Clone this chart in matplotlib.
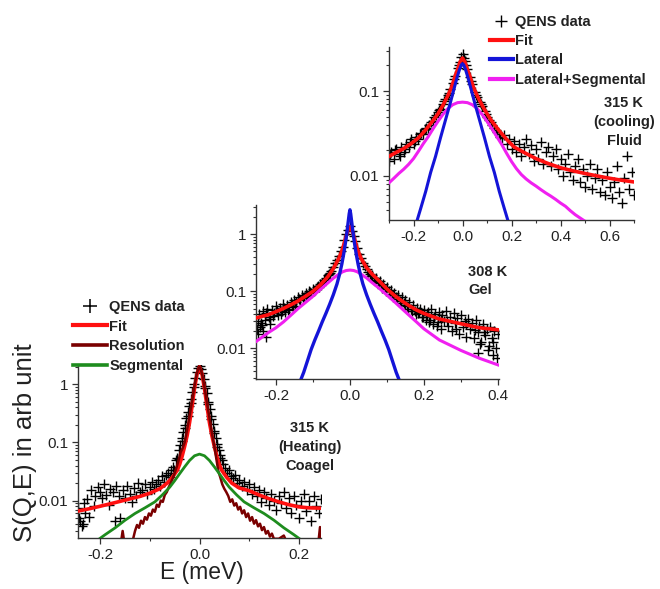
import matplotlib
matplotlib.use("Agg")
import matplotlib.pyplot as plt
from matplotlib.lines import Line2D
from matplotlib.ticker import FixedLocator, FixedFormatter, LogLocator, NullFormatter

plt.rcParams['font.family'] = ['Liberation Sans', 'DejaVu Sans']

# ---------------- 315 K heating (coagel) ----------------
coagel_E = [-0.245, -0.243, -0.240, -0.237, -0.235, -0.233, -0.230, -0.226, -0.222, -0.218,
            -0.213, -0.210, -0.205, -0.200, -0.196, -0.192, -0.188, -0.183, -0.180, -0.175,
            -0.170, -0.168, -0.163, -0.160, -0.155, -0.150, -0.146, -0.140, -0.136, -0.132,
            -0.128, -0.124, -0.120, -0.115, -0.110, -0.105, -0.100, -0.096, -0.092, -0.088,
            -0.084, -0.080, -0.076, -0.072, -0.068, -0.064, -0.060, -0.057, -0.054, -0.051,
            -0.048, -0.045, -0.042, -0.039, -0.036, -0.033, -0.030, -0.027, -0.024, -0.021,
            -0.018, -0.015, -0.012, -0.009, -0.006, -0.003, 0.000, 0.003, 0.006, 0.009,
            0.012, 0.015, 0.018, 0.021, 0.024, 0.027, 0.030, 0.033, 0.036, 0.039,
            0.042, 0.045, 0.048, 0.052, 0.056, 0.060, 0.064, 0.068, 0.072, 0.076,
            0.080, 0.085, 0.090, 0.095, 0.100, 0.105, 0.110, 0.115, 0.120, 0.125,
            0.130, 0.135, 0.140, 0.145, 0.150, 0.155, 0.160, 0.165, 0.170, 0.175,
            0.180, 0.185, 0.190, 0.195, 0.200, 0.205, 0.210, 0.215, 0.220, 0.225,
            0.230, 0.235, 0.240, 0.244, -0.041, -0.035, -0.029, -0.023, -0.017, -0.011,
            0.011, 0.017, 0.023, 0.029, 0.035, 0.041]
coagel_S = [0.0075, 0.0050, 0.0045, 0.0036, 0.0040, 0.0090, 0.0060, 0.0105, 0.0052, 0.0150,
            0.0080, 0.0120, 0.0170, 0.0140, 0.0110, 0.0190, 0.0125, 0.0085, 0.0160, 0.0140,
            0.0045, 0.0175, 0.0120, 0.0050, 0.0150, 0.0110, 0.0180, 0.0130, 0.0095, 0.0165,
            0.0120, 0.0200, 0.0140, 0.0155, 0.0190, 0.0130, 0.0170, 0.0210, 0.0160, 0.0190,
            0.0230, 0.0180, 0.0260, 0.0210, 0.0280, 0.0300, 0.0250, 0.0330, 0.0380, 0.0330,
            0.0490, 0.0550, 0.0750, 0.0900, 0.120, 0.150, 0.200, 0.260, 0.330, 0.430,
            0.560, 0.750, 1.00, 1.30, 1.60, 1.90, 2.10, 1.85, 1.55, 1.25,
            0.95, 0.70, 0.50, 0.38, 0.28, 0.21, 0.16, 0.12, 0.095, 0.075,
            0.060, 0.050, 0.042, 0.036, 0.030, 0.034, 0.026, 0.024, 0.028, 0.020,
            0.023, 0.018, 0.021, 0.015, 0.019, 0.013, 0.017, 0.012, 0.015, 0.0095,
            0.014, 0.011, 0.0085, 0.013, 0.010, 0.0070, 0.012, 0.0090, 0.014, 0.0075,
            0.011, 0.0060, 0.012, 0.0085, 0.0050, 0.010, 0.0130, 0.0065, 0.0100, 0.0045,
            0.0120, 0.0080, 0.0060, 0.0105, 0.052, 0.105, 0.175, 0.29, 0.48, 0.90,
            0.85, 0.45, 0.25, 0.145, 0.085, 0.055]

coagel_fit_E = [-0.245, -0.22, -0.20, -0.18, -0.16, -0.14, -0.12, -0.10, -0.08, -0.065,
                -0.055, -0.045, -0.04, -0.035, -0.03, -0.025, -0.02, -0.015, -0.01, -0.005,
                0.0, 0.005, 0.01, 0.015, 0.02, 0.025, 0.03, 0.035, 0.04, 0.045,
                0.055, 0.065, 0.08, 0.10, 0.12, 0.14, 0.16, 0.18, 0.20, 0.22, 0.245]
coagel_fit_S = [0.0066, 0.0073, 0.0080, 0.0088, 0.0097, 0.0107, 0.0118, 0.0134, 0.016, 0.020,
                0.025, 0.033, 0.042, 0.058, 0.085, 0.13, 0.22, 0.42, 0.85, 1.5,
                2.0, 1.5, 0.85, 0.42, 0.22, 0.13, 0.085, 0.058, 0.042, 0.033,
                0.025, 0.020, 0.0165, 0.0148, 0.0125, 0.0108, 0.0095, 0.0085, 0.0078, 0.0075, 0.0074]

resolution_E = [-0.158, -0.155, -0.152, -0.135, -0.130, -0.126, -0.122, -0.118, -0.114, -0.110,
                -0.106, -0.102, -0.098, -0.094, -0.090, -0.086, -0.082, -0.078, -0.074, -0.070,
                -0.066, -0.062, -0.058, -0.054, -0.050, -0.046, -0.042, -0.038, -0.034, -0.030,
                -0.026, -0.022, -0.018, -0.014, -0.010, -0.006, -0.003, 0.000, 0.003, 0.006,
                0.010, 0.014, 0.018, 0.022, 0.026, 0.030, 0.034, 0.038, 0.042, 0.046,
                0.050, 0.054, 0.058, 0.062, 0.066, 0.070, 0.074, 0.078, 0.082, 0.086,
                0.090, 0.094, 0.098, 0.102, 0.106, 0.110, 0.114, 0.118, 0.122, 0.126,
                0.130, 0.134, 0.138, 0.142, 0.146, 0.150, 0.160, 0.170, 0.175, 0.240,
                0.243, 0.246]
resolution_S = [0.0020, 0.0030, 0.0020, 0.0020, 0.0030, 0.0038, 0.0034, 0.0045, 0.0040, 0.0052,
                0.0047, 0.0060, 0.0055, 0.0070, 0.0064, 0.0085, 0.0078, 0.0100, 0.0095, 0.0125,
                0.0140, 0.0170, 0.0200, 0.0240, 0.0300, 0.0380, 0.0500, 0.0680, 0.0800, 0.100,
                0.150, 0.230, 0.360, 0.580, 0.950, 1.45, 1.80, 2.00, 1.75, 1.40,
                0.90, 0.55, 0.34, 0.21, 0.13, 0.085, 0.052, 0.032, 0.025, 0.019,
                0.016, 0.014, 0.0120, 0.0095, 0.0105, 0.0082, 0.0090, 0.0070, 0.0078, 0.0060,
                0.0068, 0.0052, 0.0060, 0.0045, 0.0052, 0.0040, 0.0046, 0.0036, 0.0040, 0.0031,
                0.0035, 0.0027, 0.0030, 0.0024, 0.0027, 0.0022, 0.0022, 0.0025, 0.0020, 0.0020,
                0.0035, 0.0020]

segmental_E = [-0.205, -0.19, -0.17, -0.15, -0.13, -0.11, -0.09, -0.075, -0.06, -0.05,
               -0.04, -0.03, -0.02, -0.01, 0.0, 0.01, 0.02, 0.03, 0.04, 0.05,
               0.06, 0.075, 0.09, 0.11, 0.13, 0.15, 0.17, 0.19, 0.205]
segmental_S = [0.0021, 0.0026, 0.0034, 0.0046, 0.0060, 0.0075, 0.0095, 0.0125, 0.0170, 0.0220,
               0.0290, 0.0380, 0.0490, 0.0590, 0.0630, 0.0590, 0.0490, 0.0380, 0.0290, 0.0220,
               0.0170, 0.0125, 0.0095, 0.0075, 0.0060, 0.0046, 0.0034, 0.0026, 0.0021]

# ---------------- 308 K (gel) ----------------
gel_E = [-0.250, -0.245, -0.240, -0.235, -0.230, -0.225, -0.220, -0.215, -0.210, -0.205,
         -0.200, -0.195, -0.190, -0.185, -0.180, -0.175, -0.170, -0.165, -0.160, -0.155,
         -0.150, -0.145, -0.140, -0.135, -0.130, -0.125, -0.120, -0.115, -0.110, -0.105,
         -0.100, -0.095, -0.090, -0.085, -0.080, -0.075, -0.070, -0.065, -0.060, -0.055,
         -0.050, -0.045, -0.040, -0.035, -0.030, -0.025, -0.020, -0.015, -0.010, -0.005,
         0.000, 0.005, 0.010, 0.015, 0.020, 0.025, 0.030, 0.035, 0.040, 0.045,
         0.050, 0.055, 0.060, 0.065, 0.070, 0.075, 0.080, 0.085, 0.090, 0.095,
         0.100, 0.105, 0.110, 0.115, 0.120, 0.125, 0.130, 0.135, 0.140, 0.145,
         0.150, 0.155, 0.160, 0.165, 0.170, 0.175, 0.180, 0.185, 0.190, 0.195,
         0.200, 0.205, 0.210, 0.215, 0.220, 0.225, 0.230, 0.235, 0.240, 0.245,
         0.250, 0.255, 0.260, 0.265, 0.270, 0.275, 0.280, 0.285, 0.290, 0.295,
         0.300, 0.305, 0.310, 0.315, 0.320, 0.325, 0.330, 0.335, 0.340, 0.345,
         0.350, 0.355, 0.360, 0.365, 0.370, 0.375, 0.380, 0.385, 0.390, 0.395,
         0.400, -0.248, -0.242, -0.236, -0.228, 0.345, 0.352, 0.398, 0.372, 0.388,
         -0.2475, -0.2375, -0.2275, -0.2175, -0.2075, -0.1975, -0.1875, -0.1775, -0.1675, -0.1575,
         -0.1475, -0.1375, -0.1275, -0.1175, -0.1075, -0.0975, -0.0875, -0.0775, -0.0675, -0.0575,
         0.0575, 0.0675, 0.0775, 0.0875, 0.0975, 0.1075, 0.1175, 0.1275, 0.1375, 0.1475,
         0.1575, 0.1675, 0.1775, 0.1875, 0.1975, 0.2075, 0.2175, 0.2275, 0.2375, 0.2475,
         0.2625, 0.2875, 0.3125, 0.3375, 0.3625, 0.3875]
gel_S = [0.022, 0.040, 0.028, 0.045, 0.031, 0.050, 0.036, 0.027, 0.048, 0.041,
         0.055, 0.038, 0.052, 0.046, 0.060, 0.043, 0.058, 0.050, 0.066, 0.054,
         0.070, 0.066, 0.078, 0.070, 0.085, 0.078, 0.092, 0.086, 0.100, 0.094,
         0.110, 0.105, 0.120, 0.118, 0.135, 0.140, 0.160, 0.170, 0.190, 0.210,
         0.230, 0.270, 0.310, 0.360, 0.420, 0.500, 0.600, 0.780, 1.000, 1.200,
         1.400, 1.150, 0.950, 0.750, 0.580, 0.460, 0.380, 0.320, 0.280, 0.250,
         0.220, 0.200, 0.190, 0.160, 0.170, 0.145, 0.150, 0.130, 0.135, 0.110,
         0.120, 0.100, 0.105, 0.088, 0.095, 0.078, 0.086, 0.068, 0.078, 0.062,
         0.070, 0.055, 0.064, 0.050, 0.058, 0.045, 0.052, 0.041, 0.049, 0.036,
         0.047, 0.032, 0.044, 0.029, 0.050, 0.027, 0.040, 0.025, 0.043, 0.022,
         0.038, 0.030, 0.046, 0.025, 0.036, 0.020, 0.041, 0.028, 0.034, 0.018,
         0.039, 0.024, 0.030, 0.016, 0.033, 0.022, 0.028, 0.015, 0.031, 0.019,
         0.025, 0.013, 0.027, 0.017, 0.022, 0.011, 0.024, 0.015, 0.020, 0.010,
         0.018, 0.018, 0.024, 0.020, 0.016, 0.0082, 0.012, 0.0068, 0.0095, 0.0078,
         0.030, 0.026, 0.042, 0.033, 0.037, 0.047, 0.040, 0.052, 0.047, 0.060,
         0.055, 0.072, 0.075, 0.083, 0.098, 0.100, 0.125, 0.128, 0.155, 0.200,
         0.185, 0.150, 0.138, 0.115, 0.100, 0.090, 0.080, 0.072, 0.062, 0.058,
         0.050, 0.046, 0.040, 0.044, 0.035, 0.038, 0.032, 0.036, 0.029, 0.033,
         0.030, 0.022, 0.027, 0.021, 0.019, 0.013]

gel_fit_E = [-0.255, -0.22, -0.20, -0.18, -0.16, -0.14, -0.12, -0.10, -0.08, -0.06,
             -0.045, -0.03, -0.02, -0.01, -0.004, 0.0, 0.004, 0.01, 0.02, 0.03,
             0.045, 0.06, 0.08, 0.10, 0.12, 0.14, 0.16, 0.18, 0.20, 0.24,
             0.30, 0.35, 0.405]
gel_fit_S = [0.034, 0.039, 0.044, 0.050, 0.058, 0.068, 0.082, 0.100, 0.130, 0.180,
             0.250, 0.380, 0.550, 0.950, 1.25, 1.36, 1.25, 0.95, 0.550, 0.380,
             0.260, 0.200, 0.150, 0.110, 0.085, 0.068, 0.056, 0.047, 0.041, 0.033,
             0.027, 0.023, 0.021]

gel_lateral_E = [-0.135, -0.125, -0.115, -0.105, -0.095, -0.085, -0.075, -0.065, -0.055, -0.045,
                 -0.035, -0.028, -0.022, -0.017, -0.012, -0.008, -0.005, -0.002, 0.0, 0.002,
                 0.005, 0.008, 0.012, 0.017, 0.022, 0.028, 0.035, 0.045, 0.055, 0.065,
                 0.075, 0.085, 0.095, 0.105, 0.115, 0.125, 0.135]
gel_lateral_S = [0.0026, 0.0038, 0.0060, 0.0095, 0.0140, 0.020, 0.029, 0.041, 0.059, 0.087,
                 0.135, 0.20, 0.30, 0.45, 0.72, 1.1, 1.6, 2.3, 2.7, 2.3,
                 1.6, 1.1, 0.72, 0.45, 0.30, 0.20, 0.135, 0.087, 0.059, 0.041,
                 0.029, 0.020, 0.0140, 0.0095, 0.0060, 0.0038, 0.0026]

gel_lat_seg_E = [-0.255, -0.22, -0.20, -0.18, -0.16, -0.14, -0.12, -0.10, -0.08, -0.06,
                 -0.045, -0.03, -0.02, -0.01, 0.0, 0.01, 0.02, 0.03, 0.045, 0.06,
                 0.08, 0.10, 0.12, 0.14, 0.16, 0.18, 0.20, 0.242, 0.30, 0.35, 0.405]
gel_lat_seg_S = [0.013, 0.019, 0.023, 0.029, 0.038, 0.050, 0.064, 0.082, 0.108, 0.140,
                 0.170, 0.200, 0.220, 0.232, 0.236, 0.232, 0.220, 0.200, 0.172, 0.142,
                 0.112, 0.086, 0.066, 0.050, 0.038, 0.029, 0.022, 0.0140, 0.0092, 0.0067, 0.0050]

# ---------------- 315 K cooling (fluid) ----------------
fluid_E = [-0.30, -0.29, -0.28, -0.27, -0.26, -0.25, -0.24, -0.23, -0.22, -0.21,
           -0.20, -0.19, -0.18, -0.17, -0.16, -0.15, -0.14, -0.13, -0.12, -0.11,
           -0.10, -0.09, -0.08, -0.07, -0.06, -0.05, -0.04, -0.03, -0.02, -0.01,
           0.00, 0.01, 0.02, 0.03, 0.04, 0.05, 0.06, 0.07, 0.08, 0.09,
           0.10, 0.11, 0.12, 0.13, 0.14, 0.15, 0.16, 0.17, 0.18, 0.19,
           0.20, 0.21, 0.22, 0.23, 0.24, 0.25, 0.26, 0.27, 0.28, 0.29,
           0.30, 0.31, 0.32, 0.33, 0.34, 0.35, 0.36, 0.37, 0.38, 0.39,
           0.40, 0.41, 0.42, 0.43, 0.44, 0.45, 0.46, 0.47, 0.48, 0.49,
           0.50, 0.51, 0.52, 0.53, 0.54, 0.55, 0.56, 0.57, 0.58, 0.59,
           0.60, 0.61, 0.62, 0.63, 0.64, 0.65, 0.66, 0.67, 0.68, 0.69, 0.70,
           -0.295, -0.275, -0.255, -0.235, -0.215, -0.195, -0.175, -0.155, -0.135, -0.115,
           -0.095, -0.075, -0.055, -0.035, -0.015, -0.005, 0.005, 0.015, 0.035, 0.055,
           0.075, 0.095, 0.115, 0.135, 0.155]
fluid_S = [0.015, 0.019, 0.016, 0.021, 0.018, 0.022, 0.019, 0.024, 0.022, 0.027,
           0.024, 0.029, 0.027, 0.032, 0.031, 0.037, 0.036, 0.043, 0.044, 0.052,
           0.056, 0.062, 0.070, 0.080, 0.090, 0.105, 0.125, 0.150, 0.185, 0.220,
           0.270, 0.225, 0.180, 0.145, 0.120, 0.098, 0.085, 0.074, 0.066, 0.058,
           0.050, 0.045, 0.040, 0.037, 0.033, 0.031, 0.028, 0.030, 0.024, 0.027,
           0.021, 0.026, 0.019, 0.024, 0.017, 0.022, 0.027, 0.018, 0.023, 0.015,
           0.021, 0.016, 0.025, 0.014, 0.019, 0.022, 0.013, 0.017, 0.021, 0.012,
           0.016, 0.010, 0.014, 0.018, 0.011, 0.009, 0.013, 0.016, 0.0085, 0.012,
           0.0075, 0.010, 0.014, 0.0070, 0.0095, 0.012, 0.0065, 0.0090, 0.0060, 0.011,
           0.0075, 0.0055, 0.0085, 0.013, 0.0065, 0.0048, 0.0095, 0.017, 0.0070, 0.011, 0.0060,
           0.018, 0.020, 0.017, 0.021, 0.025, 0.026, 0.031, 0.036, 0.040, 0.050,
           0.060, 0.076, 0.095, 0.140, 0.205, 0.250, 0.245, 0.200, 0.132, 0.090,
           0.070, 0.054, 0.043, 0.035, 0.029]

fluid_fit_E = [-0.30, -0.27, -0.24, -0.21, -0.18, -0.15, -0.12, -0.10, -0.08, -0.06,
               -0.045, -0.03, -0.02, -0.01, 0.0, 0.01, 0.02, 0.03, 0.045, 0.06,
               0.08, 0.10, 0.12, 0.15, 0.18, 0.21, 0.25, 0.30, 0.35, 0.40,
               0.45, 0.50, 0.55, 0.60, 0.65, 0.70]
fluid_fit_S = [0.017, 0.019, 0.021, 0.024, 0.028, 0.035, 0.045, 0.054, 0.068, 0.088,
               0.110, 0.150, 0.180, 0.220, 0.245, 0.220, 0.180, 0.150, 0.110, 0.088,
               0.068, 0.054, 0.044, 0.034, 0.027, 0.022, 0.019, 0.016, 0.014, 0.0125,
               0.0115, 0.0107, 0.0100, 0.0094, 0.0089, 0.0085]

fluid_lateral_E = [-0.19, -0.17, -0.15, -0.13, -0.11, -0.09, -0.07, -0.05, -0.035, -0.022,
                   -0.012, -0.005, 0.0, 0.005, 0.012, 0.022, 0.035, 0.05, 0.07, 0.09,
                   0.11, 0.13, 0.15, 0.17, 0.19]
fluid_lateral_S = [0.0027, 0.0042, 0.0066, 0.011, 0.017, 0.028, 0.045, 0.072, 0.105, 0.145,
                   0.180, 0.203, 0.210, 0.203, 0.180, 0.145, 0.105, 0.072, 0.045, 0.028,
                   0.017, 0.011, 0.0066, 0.0042, 0.0027]

fluid_lat_seg_E = [-0.30, -0.28, -0.26, -0.24, -0.22, -0.20, -0.18, -0.16, -0.14, -0.12,
                   -0.10, -0.08, -0.06, -0.04, -0.02, 0.0, 0.02, 0.04, 0.06, 0.08,
                   0.10, 0.12, 0.14, 0.16, 0.18, 0.20, 0.22, 0.24, 0.26, 0.28,
                   0.30, 0.32, 0.34, 0.36, 0.38, 0.40, 0.42, 0.44, 0.46, 0.48, 0.51]
fluid_lat_seg_S = [0.0083, 0.0094, 0.0107, 0.0120, 0.0137, 0.0160, 0.0195, 0.024, 0.029, 0.036,
                   0.044, 0.053, 0.062, 0.069, 0.073, 0.074, 0.073, 0.069, 0.062, 0.053,
                   0.044, 0.036, 0.029, 0.0235, 0.0185, 0.0148, 0.0122, 0.0104, 0.0092, 0.0083,
                   0.0076, 0.0069, 0.0063, 0.0058, 0.0053, 0.0048, 0.0044, 0.0039, 0.0035, 0.0032, 0.0028]

RED = '#ff1010'
BLUE = '#1414d8'
MAGENTA = '#f020f0'
DARKRED = '#7a0000'
GREEN = '#1e8c1e'
TXT = '#222222'

W, H = 660, 589
fig = plt.figure(figsize=(W / 100, H / 100), dpi=100)


def box(l, t, r, b):
    return [l / W, 1 - b / H, (r - l) / W, (b - t) / H]


def fpos(x, y):
    return (x / W, 1 - y / H)


def style(ax, xlim, ylim, xmaj, xmin, ymaj, ylab):
    ax.set_yscale('log')
    ax.set_xlim(xlim)
    ax.set_ylim(ylim)
    ax.patch.set_alpha(0)
    for s in ('top', 'right'):
        ax.spines[s].set_visible(False)
    for s in ('left', 'bottom'):
        ax.spines[s].set_color('#333333')
        ax.spines[s].set_linewidth(1.0)
    ax.set_xticks(xmaj)
    ax.set_xticklabels([f"{v:.1f}" for v in xmaj])
    ax.set_xticks(xmin, minor=True)
    ax.yaxis.set_major_locator(FixedLocator(ymaj))
    ax.yaxis.set_major_formatter(FixedFormatter(ylab))
    ax.yaxis.set_minor_locator(LogLocator(base=10, subs=range(2, 10)))
    ax.yaxis.set_minor_formatter(NullFormatter())
    ax.tick_params(which='major', direction='out', length=4, width=0.9,
                   labelsize=11, labelcolor=TXT, color='#333333', pad=3)
    ax.tick_params(which='minor', direction='out', length=2.5, width=0.8, color='#333333')


# panel 1
ax1 = fig.add_axes(box(78, 365, 321, 538))
ax1.plot(coagel_E, coagel_S, ls='none', marker='+', color='black', ms=7.5, mew=1.0, zorder=2)
ax1.plot(coagel_fit_E, coagel_fit_S, color=RED, lw=2.6, zorder=3)
ax1.plot(resolution_E, resolution_S, color=DARKRED, lw=1.8, zorder=4)
ax1.plot(segmental_E, segmental_S, color=GREEN, lw=2.0, zorder=4)
style(ax1, (-0.245, 0.245), (0.00227, 2.15), [-0.2, 0.0, 0.2], [-0.1, 0.1],
      [0.01, 0.1, 1], ['0.01', '0.1', '1'])

# panel 2
ax2 = fig.add_axes(box(256, 205, 499, 379))
ax2.plot(gel_E, gel_S, ls='none', marker='+', color='black', ms=6.5, mew=1.0, zorder=2)
ax2.plot(gel_lat_seg_E, gel_lat_seg_S, color=MAGENTA, lw=2.2, zorder=3)
ax2.plot(gel_fit_E, gel_fit_S, color=RED, lw=2.6, zorder=4)
ax2.plot(gel_lateral_E, gel_lateral_S, color=BLUE, lw=2.4, zorder=5)
style(ax2, (-0.254, 0.403), (0.0029, 3.27), [-0.2, 0.0, 0.2, 0.4], [-0.1, 0.1, 0.3],
      [0.01, 0.1, 1], ['0.01', '0.1', '1'])

# panel 3
ax3 = fig.add_axes(box(389, 47, 634, 220))
ax3.plot(fluid_E, fluid_S, ls='none', marker='+', color='black', ms=7, mew=1.0, zorder=2)
ax3.plot(fluid_lat_seg_E, fluid_lat_seg_S, color=MAGENTA, lw=2.2, zorder=3)
ax3.plot(fluid_fit_E, fluid_fit_S, color=RED, lw=2.6, zorder=4)
ax3.plot(fluid_lateral_E, fluid_lateral_S, color=BLUE, lw=2.2, zorder=5)
style(ax3, (-0.30, 0.70), (0.00303, 0.33), [-0.2, 0.0, 0.2, 0.4, 0.6],
      [-0.3, -0.1, 0.1, 0.3, 0.5, 0.7], [0.01, 0.1], ['0.01', '0.1'])

# axis labels of the whole figure
fig.text(*fpos(25, 443), 'S(Q,E) in arb unit', rotation=90, ha='center', va='center',
         fontsize=18.5, color=TXT)
fig.text(*fpos(202, 573), 'E (meV)', ha='center', va='center', fontsize=16.5, color=TXT)

# state annotations
bold = dict(fontsize=10.5, fontweight='bold', color=TXT)
fig.text(*fpos(310, 447), '315 K\n(Heating)\nCoagel', ha='center', va='center',
         multialignment='center', linespacing=1.45, **bold)
fig.text(*fpos(468, 281), '308 K\nGel', ha='left', va='center', linespacing=1.35, **bold)
fig.text(*fpos(624, 122), '315 K\n(cooling)\nFluid', ha='center', va='center',
         multialignment='center', linespacing=1.45, **bold)

# legends
h1 = [Line2D([], [], ls='none', marker='+', color='black', ms=10, mew=1.1),
      Line2D([], [], color=RED, lw=3),
      Line2D([], [], color=DARKRED, lw=2.6),
      Line2D([], [], color=GREEN, lw=2.6)]
fig.legend(h1, ['QENS data', 'Fit', 'Resolution', 'Segmental'], loc='upper left',
           bbox_to_anchor=fpos(73, 300), frameon=False,
           prop={'weight': 'bold', 'size': 10.5}, labelcolor=TXT,
           handlelength=2.3, handletextpad=0.2, labelspacing=0.38,
           borderpad=0, borderaxespad=0)

h3 = [Line2D([], [], ls='none', marker='+', color='black', ms=8, mew=1.0),
      Line2D([], [], color=RED, lw=3),
      Line2D([], [], color=BLUE, lw=3),
      Line2D([], [], color=MAGENTA, lw=3)]
fig.legend(h3, ['QENS data', 'Fit', 'Lateral', 'Lateral+Segmental'], loc='upper left',
           bbox_to_anchor=fpos(490, 15), frameon=False,
           prop={'weight': 'bold', 'size': 10.5}, labelcolor=TXT,
           handlelength=1.55, handletextpad=0.15, labelspacing=0.36,
           borderpad=0, borderaxespad=0)

fig.savefig('out.png', dpi=100)
